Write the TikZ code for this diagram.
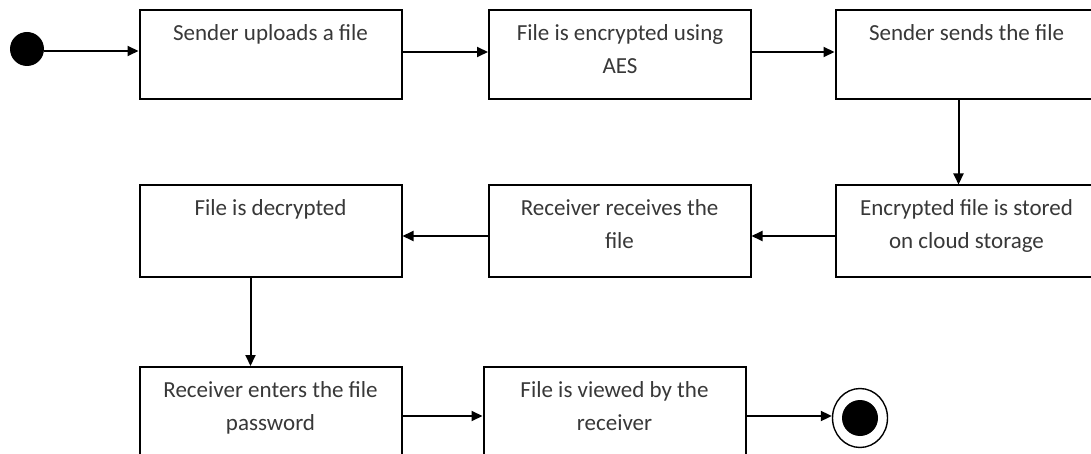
\documentclass[tikz,border=0pt]{standalone}
\usepackage{fontspec}
\setmainfont{Carlito}
\usetikzlibrary{arrows.meta,shapes.geometric}
% first baseline 30pt below the box top, later lines 33pt apart
\newcommand\boxtext[2][89pt]{\parbox[c][#1][t]{262pt}{\centering\fontsize{23}{33}\selectfont\color{black!78}\rule{0pt}{30pt}#2\par}}
\tikzset{
  stepbox/.style={draw=black, line width=2pt, inner sep=0pt, fill=white},
  flow/.style={line width=2pt, -{Triangle[length=11pt,width=10pt]}},
}
\begin{document}
\begin{tikzpicture}[x=1pt,y=-1pt]
\useasboundingbox (0,0) rectangle (1091,454);
\clip (0,0) rectangle (1091,454);

% start and end states
\node[circle, fill=black, minimum size=34pt, inner sep=0pt] (start) at (27,49) {};
\node[ellipse, draw=black, line width=1.4pt, minimum width=55pt, minimum height=59pt, inner sep=0pt] (finish) at (860,418) {};
\node[circle, fill=black, minimum size=36pt, inner sep=0pt] (finishdot) at (860,418) {};

% activity boxes
\node[stepbox] (upload)  at (270.5,55)  {\boxtext{Sender uploads a file}};
\node[stepbox] (encrypt) at (620,55)    {\boxtext{File is encrypted using\\AES}};
\node[stepbox] (send)    at (966.5,55)  {\boxtext{Sender sends the file}};
\node[stepbox] (store)   at (966.5,231) {\boxtext[91pt]{Encrypted file is stored\\on cloud storage}};
\node[stepbox] (receive) at (619.5,231) {\boxtext[91pt]{Receiver receives the\\file}};
\node[stepbox] (decrypt) at (270.5,231) {\boxtext[91pt]{File is decrypted}};
\node[stepbox] (password) at (270.5,412) {\boxtext[90pt]{Receiver enters the file\\password}};
\node[stepbox] (view)    at (614.5,412) {\boxtext[90pt]{File is viewed by the\\receiver}};

% transitions
\draw[flow] ([yshift=-2pt]start.east) -- ([yshift=4pt]upload.west);
\draw[flow] ([yshift=3pt]upload.east) -- ([yshift=3pt]encrypt.west);
\draw[flow] ([yshift=3pt]encrypt.east) -- ([yshift=3pt]send.west);
\draw[flow] ([xshift=-8pt]send.south) -- ([xshift=-8pt]store.north);
\draw[flow] ([yshift=-5pt]store.west) -- ([yshift=-5pt]receive.east);
\draw[flow] ([yshift=-5pt]receive.west) -- ([yshift=-5pt]decrypt.east);
\draw[flow] ([xshift=-20pt]decrypt.south) -- ([xshift=-20pt]password.north);
\draw[flow] ([yshift=-4pt]password.east) -- ([yshift=-4pt]view.west);
\draw[flow] ([yshift=-4pt]view.east) -- ([yshift=2pt]finish.west);
\end{tikzpicture}
\end{document}
